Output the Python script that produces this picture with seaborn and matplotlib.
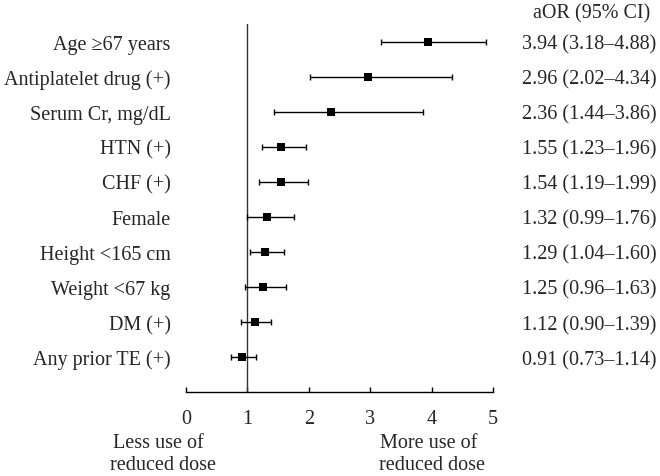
import numpy as np
import pandas as pd
import matplotlib
matplotlib.use("Agg")
import matplotlib.pyplot as plt
import matplotlib.transforms as mtransforms
import seaborn as sns

# Forest plot data
labels = ["Age \u226567 years", "Antiplatelet drug (+)", "Serum Cr, mg/dL", "HTN (+)",
          "CHF (+)", "Female", "Height <165 cm", "Weight <67 kg", "DM (+)",
          "Any prior TE (+)"]
aor = [3.94, 2.96, 2.36, 1.55, 1.54, 1.32, 1.29, 1.25, 1.12, 0.91]
ci_low = [3.18, 2.02, 1.44, 1.23, 1.19, 0.99, 1.04, 0.96, 0.90, 0.73]
ci_high = [4.88, 4.34, 3.86, 1.96, 1.99, 1.76, 1.60, 1.63, 1.39, 1.14]
xticks = [0, 1, 2, 3, 4, 5]

df = pd.DataFrame({"label": labels, "aor": aor, "lo": ci_low, "hi": ci_high})
df["row"] = np.arange(len(df))

sns.set_theme(style="white")
plt.rcParams["font.family"] = ["Liberation Serif", "DejaVu Serif"]
fs = 14.5

fig = plt.figure(figsize=(6.6, 4.77), dpi=100)
ax = fig.add_axes([186 / 660, 1 - 393 / 477, (493 - 186) / 660, (393 - 25) / 477])

# vertical reference line at 1
ax.axvline(1, color="#333333", lw=1.0, zorder=1)

ax.errorbar(df["aor"], df["row"],
            xerr=[df["aor"] - df["lo"], df["hi"] - df["aor"]],
            fmt="none", ecolor="black", elinewidth=1.0, capsize=2.2, capthick=1.0, zorder=2)
sns.scatterplot(data=df, x="aor", y="row", marker="s", s=32, color="black",
                edgecolor="black", linewidth=0, ax=ax, zorder=3)

ax.set_xlim(0, 5)
ax.set_ylim(10, -0.5)
ax.set_xticks(xticks)
ax.set_xticklabels([str(t) for t in xticks], fontsize=fs)
ax.set_yticks(df["row"])
ax.set_yticklabels(df["label"], fontsize=fs)
ax.tick_params(axis="y", length=0, pad=11)
ax.tick_params(axis="x", direction="in", length=3.5, width=1.0, color="black", pad=12, bottom=True)
ax.set_xlabel("")
ax.set_ylabel("")
for s in ["top", "right", "left"]:
    ax.spines[s].set_visible(False)
ax.spines["bottom"].set_color("black")
ax.spines["bottom"].set_linewidth(1.0)

# right-hand column of aOR (95% CI)
trans = mtransforms.blended_transform_factory(fig.transFigure, ax.transData)
for i, r in df.iterrows():
    txt = f"{r['aor']:.2f} ({r['lo']:.2f}\u2013{r['hi']:.2f})"
    ax.text(589 / 660, r["row"], txt, transform=trans, ha="center", va="center_baseline",
            fontsize=fs, clip_on=False)
ax.text(592 / 660, -0.886, "aOR (95% CI)", transform=trans, ha="center", va="center_baseline",
        fontsize=fs, clip_on=False)

# direction labels under the axis
fig.text(158 / 660, 24 / 477, "Less use of", ha="center", va="bottom", fontsize=fs)
fig.text(163 / 660, 2 / 477, "reduced dose", ha="center", va="bottom", fontsize=fs)
fig.text(429 / 660, 24 / 477, "More use of", ha="center", va="bottom", fontsize=fs)
fig.text(432 / 660, 2 / 477, "reduced dose", ha="center", va="bottom", fontsize=fs)

fig.savefig("out.png", dpi=100)
